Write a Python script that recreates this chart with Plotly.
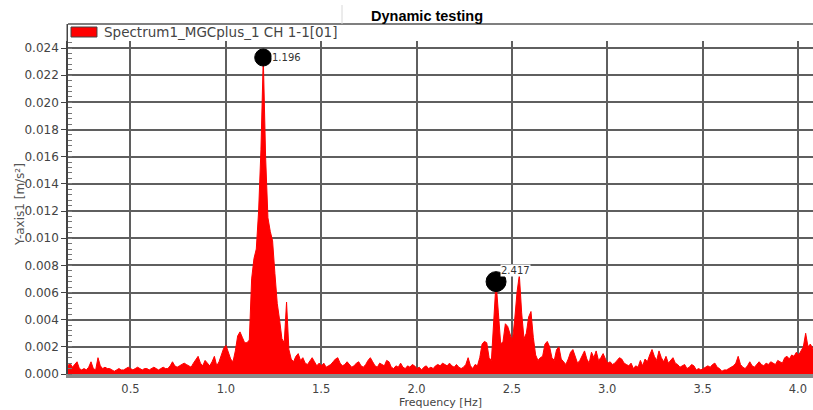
import numpy as np
import plotly.graph_objects as go

# ---------------- data ----------------
bin_width = 50 / 4096          # spectral resolution [Hz]
first_bin = 14                 # first spectral bin shown
accel = [
    0.0006, 0.0008, 0.0005, 0.0007, 0.0009, 0.0004, 0.0003, 0.0004, 0.0003, 0.0005,
    0.0009, 0.0004, 0.0003, 0.0012, 0.0006, 0.0004, 0.0005, 0.0004, 0.0004, 0.0003,
    0.0002, 0.0003, 0.0004, 0.0003, 0.0003, 0.0004, 0.0005, 0.0004, 0.0003, 0.0004,
    0.0005, 0.0004, 0.0003, 0.0004, 0.0004, 0.0003, 0.0004, 0.0005, 0.0004, 0.0003,
    0.0004, 0.0005, 0.0004, 0.0004, 0.0006, 0.0009, 0.0006, 0.0005, 0.0006, 0.0007,
    0.0008, 0.0007, 0.0006, 0.0005, 0.0008, 0.0011, 0.0013, 0.0008, 0.0006, 0.0010,
    0.0008, 0.0006, 0.0009, 0.0013, 0.0006, 0.0009, 0.0014, 0.0019, 0.0021, 0.0016,
    0.0011, 0.0009, 0.0017, 0.0028, 0.0031, 0.0027, 0.0023, 0.0023, 0.0025, 0.0070,
    0.0085, 0.0092, 0.0120, 0.0165, 0.0233, 0.0160, 0.0115, 0.0105, 0.0098, 0.0074,
    0.0052, 0.0040, 0.0026, 0.0023, 0.0053, 0.0018, 0.0011, 0.0009, 0.0013, 0.0015,
    0.0010, 0.0012, 0.0008, 0.0007, 0.0010, 0.0012, 0.0009, 0.0006, 0.0008, 0.0006,
    0.0008, 0.0005, 0.0006, 0.0007, 0.0009, 0.0011, 0.0012, 0.0008, 0.0006, 0.0007,
    0.0009, 0.0007, 0.0005, 0.0006, 0.0008, 0.0009, 0.0006, 0.0005, 0.0007, 0.0010,
    0.0012, 0.0009, 0.0006, 0.0005, 0.0008, 0.0007, 0.0006, 0.0010, 0.0009, 0.0005,
    0.0004, 0.0006, 0.0005, 0.0008, 0.0005, 0.0004, 0.0006, 0.0005, 0.0007, 0.0006,
    0.0004, 0.0005, 0.0003, 0.0005, 0.0006, 0.0004, 0.0005, 0.0004, 0.0006, 0.0007,
    0.0006, 0.0008, 0.0007, 0.0006, 0.0008, 0.0006, 0.0005, 0.0007, 0.0005, 0.0004,
    0.0005, 0.0007, 0.0012, 0.0006, 0.0004, 0.0007, 0.0006, 0.0012, 0.0022, 0.0024,
    0.0023, 0.0012, 0.0010, 0.0040, 0.0068, 0.0045, 0.0022, 0.0024, 0.0037, 0.0035,
    0.0030, 0.0024, 0.0040, 0.0060, 0.0073, 0.0045, 0.0026, 0.0030, 0.0042, 0.0046,
    0.0027, 0.0014, 0.0010, 0.0012, 0.0013, 0.0022, 0.0024, 0.0020, 0.0012, 0.0010,
    0.0018, 0.0020, 0.0011, 0.0009, 0.0007, 0.0011, 0.0016, 0.0018, 0.0012, 0.0008,
    0.0010, 0.0014, 0.0017, 0.0011, 0.0008, 0.0016, 0.0012, 0.0017, 0.0010, 0.0012,
    0.0015, 0.0011, 0.0008, 0.0009, 0.0007, 0.0008, 0.0010, 0.0012, 0.0011, 0.0008,
    0.0007, 0.0006, 0.0008, 0.0004, 0.0006, 0.0005, 0.0010, 0.0006, 0.0011, 0.0009,
    0.0014, 0.0018, 0.0013, 0.0010, 0.0017, 0.0012, 0.0009, 0.0013, 0.0008, 0.0010,
    0.0012, 0.0008, 0.0007, 0.0005, 0.0006, 0.0007, 0.0004, 0.0005, 0.0007, 0.0006,
    0.0003, 0.0004, 0.0003, 0.0004, 0.0005, 0.0006, 0.0005, 0.0007, 0.0008, 0.0005,
    0.0004, 0.0002, 0.0003, 0.0003, 0.0004, 0.0005, 0.0006, 0.0008, 0.0013, 0.0007,
    0.0005, 0.0004, 0.0006, 0.0009, 0.0006, 0.0005, 0.0007, 0.0009, 0.0007, 0.0006,
    0.0008, 0.0007, 0.0009, 0.0008, 0.0007, 0.0010, 0.0009, 0.0008, 0.0012, 0.0013,
    0.0011, 0.0014, 0.0013, 0.0016, 0.0014, 0.0017, 0.0020, 0.0030, 0.0020, 0.0022,
    0.0019, 0.0018,
]
freq = (first_bin + np.arange(len(accel))) * bin_width

peak_freqs = [1.196, 2.417]
peak_labels = ["1.196", "2.417"]
peak_vals = [accel[int(round(f / bin_width)) - first_bin] for f in peak_freqs]

x_ticks = [0.5, 1.0, 1.5, 2.0, 2.5, 3.0, 3.5, 4.0]
x_tick_labels = ["0.5", "1.0", "1.5", "2.0", "2.5", "3.0", "3.5", "4.0"]
y_ticks = [0.000, 0.002, 0.004, 0.006, 0.008, 0.010, 0.012,
           0.014, 0.016, 0.018, 0.020, 0.022, 0.024]
y_tick_labels = ["0.000", "0.002", "0.004", "0.006", "0.008", "0.010", "0.012",
                 "0.014", "0.016", "0.018", "0.020", "0.022", "0.024"]

series_name = "Spectrum1_MGCplus_1 CH 1-1[01]"
title_text = "Dynamic testing"
x_title = "Frequency [Hz]"
y_title = "Y-axis1 [m/s²]"

# ---------------- figure ----------------
GRID = "#5f5f5f"
TXT = "#444444"

fig = go.Figure()
fig.add_trace(go.Scatter(
    x=freq, y=accel, mode="lines",
    line=dict(color="#ff0000", width=1),
    fill="tozeroy", fillcolor="#ff0000",
    showlegend=False, hoverinfo="skip",
))
fig.add_trace(go.Scatter(
    x=peak_freqs, y=peak_vals, mode="markers",
    marker=dict(color="#000000", size=[17, 20], opacity=1,
                line=dict(width=1, color="#000000")),
    opacity=1, showlegend=False, hoverinfo="skip",
))

fig.update_layout(
    width=813, height=410,
    margin=dict(l=68, r=0, t=41, b=36),
    paper_bgcolor="white", plot_bgcolor="white",
    font=dict(family="DejaVu Sans", size=12, color=TXT),
)

fig.update_xaxes(
    range=[0.1723, 4.079],
    tickmode="array", tickvals=x_ticks, ticktext=x_tick_labels,
    showgrid=True, gridcolor=GRID, gridwidth=1.5, zeroline=False,
    showline=True, linecolor="#8a8a8a", linewidth=4,
    ticks="outside", ticklen=1, tickcolor="rgba(0,0,0,0)",
    tickfont=dict(size=11.5, color=TXT),
    title=dict(text=x_title, font=dict(size=11, color=TXT), standoff=3),
)
fig.update_yaxes(
    range=[0, 0.024515],
    tickmode="array", tickvals=y_ticks, ticktext=y_tick_labels,
    showgrid=True, gridcolor=GRID, gridwidth=1.5, zeroline=False,
    showline=True, linecolor="#444444", linewidth=1.5,
    ticks="outside", ticklen=5, tickcolor="#444444",
    tickfont=dict(size=12, color=TXT),
    minor=dict(tickmode="linear", tick0=0, dtick=0.0004, ticks="inside",
               ticklen=4, tickcolor="#777777", showgrid=False),
)

shapes = [
    # top frame line
    dict(type="line", xref="paper", yref="paper", x0=0, x1=1, y0=1.0511, y1=1.0511,
         line=dict(color="#555555", width=1.5)),
    # y-axis line continuing to the frame top
    dict(type="line", xref="paper", yref="paper", x0=-0.001, x1=-0.001, y0=1.0, y1=1.0511,
         line=dict(color="#444444", width=1.5)),
    # faint title box edge
    dict(type="line", xref="paper", yref="paper", x0=0.3678, x1=0.3678, y0=1.0511, y1=1.108,
         line=dict(color="#d8d8d8", width=1)),
    # legend swatch
    dict(type="rect", xref="paper", yref="paper", x0=0.00403, x1=0.0389, y0=1.012, y1=1.042,
         fillcolor="#ff0000", line=dict(color="#444444", width=1)),
]
fig.update_layout(shapes=shapes)

annotations = [
    dict(text=series_name, xref="paper", yref="paper", x=0.046, y=1.027,
         xanchor="left", yanchor="middle", showarrow=False,
         font=dict(family="DejaVu Sans", size=13.5, color=TXT)),
    dict(text="<b>" + title_text + "</b>", xref="paper", yref="paper", x=0.4819, y=1.075,
         xanchor="center", yanchor="middle", showarrow=False,
         font=dict(family="Liberation Sans, Arial", size=14.5, color="black")),
    dict(text=y_title, xref="paper", yref="paper", x=-0.0644, y=0.5075,
         xanchor="center", yanchor="middle", showarrow=False, textangle=-90,
         font=dict(family="DejaVu Sans", size=12, color="#555555")),
]
label_shift = [(8, 0), (4, 11)]
for f, v, lab, (dx, dy) in zip(peak_freqs, peak_vals, peak_labels, label_shift):
    annotations.append(dict(
        text=lab, x=f, y=v, xref="x", yref="y", showarrow=False,
        xanchor="left", yanchor="middle", xshift=dx, yshift=dy,
        bgcolor="white", borderpad=0,
        font=dict(family="DejaVu Sans", size=10, color="#333333"),
    ))
fig.update_layout(annotations=annotations)

fig.write_html("out.html")
